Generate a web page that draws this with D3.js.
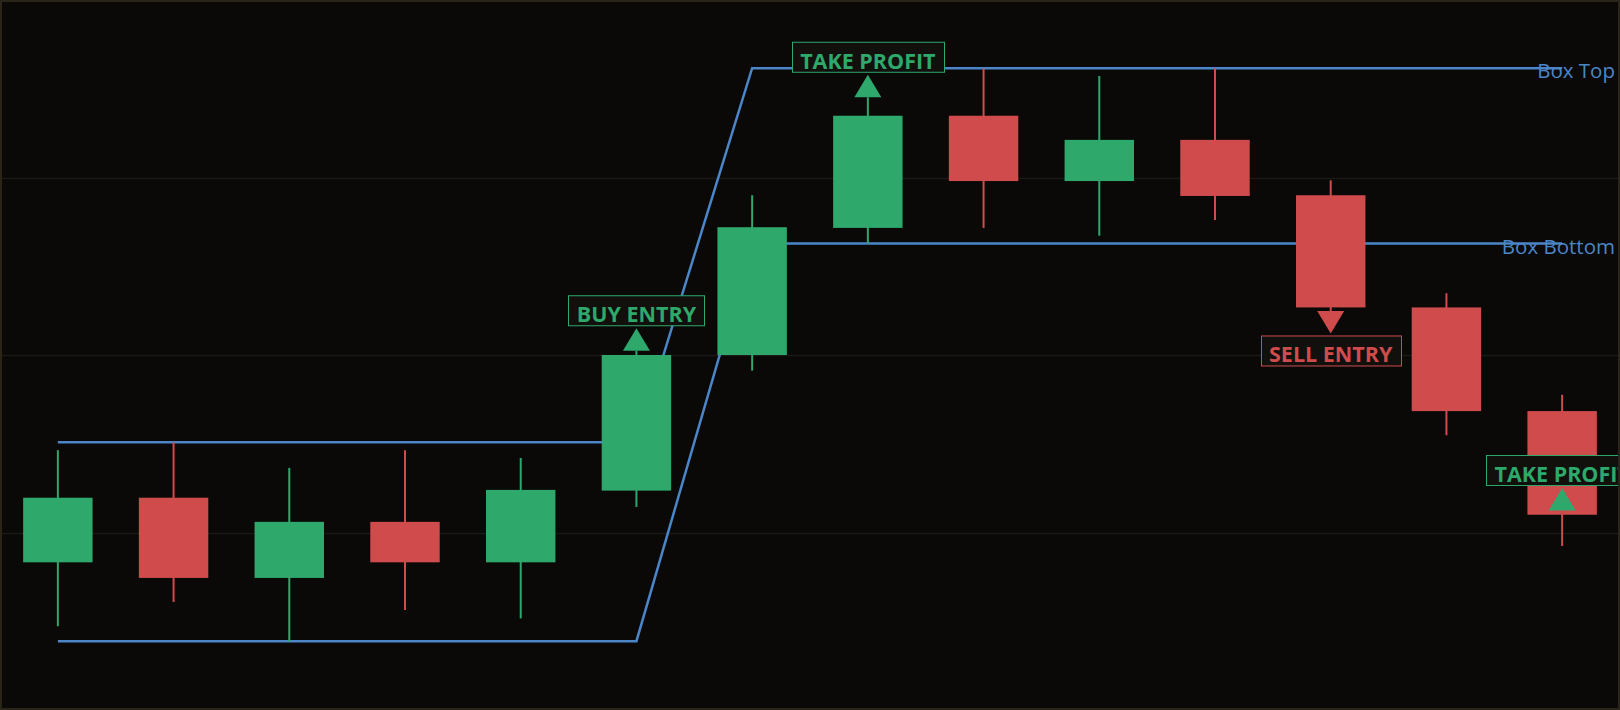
<!DOCTYPE html>
<html>
<head>
<meta charset="utf-8">
<title>Box breakout</title>
<style>
  html, body { margin: 0; padding: 0; background: #0a0908; }
  svg { display: block; }
</style>
</head>
<body>
<svg id="chart" width="1620" height="710"></svg>
<script src="https://d3js.org/d3.v7.min.js"></script>
<script>
// candles (price units 0..100)
var opens  = [20.8, 29.9, 18.6, 26.5, 20.8, 30.9, 50.0, 67.9, 83.7, 74.5, 80.3, 72.5, 56.7, 42.1];
var highs  = [36.6, 37.7, 34.1, 36.6, 35.5, 50.6, 72.5, 86.3, 90.4, 89.3, 90.4, 74.6, 58.7, 44.4];
var lows   = [11.8, 15.2,  9.6, 14.1, 12.9, 28.6, 47.8, 65.7, 67.9, 66.8, 69.0, 56.2, 38.7, 23.1];
var closes = [29.9, 18.6, 26.5, 20.8, 31.0, 50.0, 68.0, 83.7, 74.5, 80.3, 72.4, 56.7, 42.1, 27.5];

// box outline (candle index -> price)
var boxIdx    = [0, 5, 6, 13];
var boxTop    = [37.7, 37.7, 90.4, 90.4];
var boxBottom = [9.7, 9.7, 65.7, 65.7];
var boxLabels = ["Box Top", "Box Bottom"];

// trade markers
var markerIdx   = [5, 7, 11, 13];
var markerPrice = [50.6, 86.3, 56.2, 28.1];
var markerText  = ["BUY ENTRY", "TAKE PROFIT", "SELL ENTRY", "TAKE PROFIT"];
var markerDir   = ["up", "up", "down", "up"];

var gridLevels = [25, 50, 75];

var width = 1620, height = 710;
var green = "#2ea86b", red = "#d04b4c", blue = "#4a86c8";

var svg = d3.select("#chart");

var x = d3.scaleBand()
    .domain(d3.range(opens.length))
    .range([0, width])
    .paddingInner(0.4)
    .paddingOuter(0.2);
var y = d3.scaleLinear().domain([0, 100]).range([height, 0]);
var cx = function(i) { return x(i) + x.bandwidth() / 2; };

svg.append("rect")
    .attr("width", width).attr("height", height)
    .attr("fill", "#0a0908");

// grid
svg.selectAll(".grid")
    .data(gridLevels)
    .enter().append("line")
    .attr("x1", 0).attr("x2", width)
    .attr("y1", d => Math.round(y(d)) + 0.5)
    .attr("y2", d => Math.round(y(d)) + 0.5)
    .attr("stroke", "#1b1916")
    .attr("stroke-width", 1.5);

// box lines
var boxLine = d3.line()
    .x(d => cx(d[0]))
    .y(d => y(d[1]));
[boxTop, boxBottom].forEach(function(vals) {
    svg.append("path")
        .attr("d", boxLine(boxIdx.map((b, k) => [b, vals[k]])))
        .attr("fill", "none")
        .attr("stroke", blue)
        .attr("stroke-width", 2.5);
});

// candles
var candles = d3.range(opens.length).map(i => ({
    i: i, o: opens[i], h: highs[i], l: lows[i], c: closes[i]
}));
var g = svg.selectAll(".candle")
    .data(candles)
    .enter().append("g");
g.append("line")
    .attr("x1", d => cx(d.i)).attr("x2", d => cx(d.i))
    .attr("y1", d => y(d.h)).attr("y2", d => y(d.l))
    .attr("stroke", d => d.c >= d.o ? green : red)
    .attr("stroke-width", 2);
g.append("rect")
    .attr("x", d => x(d.i))
    .attr("width", x.bandwidth())
    .attr("y", d => y(Math.max(d.o, d.c)))
    .attr("height", d => Math.abs(y(d.o) - y(d.c)))
    .attr("fill", d => d.c >= d.o ? green : red);

// box labels
svg.selectAll(".boxlabel")
    .data([boxTop[3], boxBottom[3]])
    .enter().append("text")
    .attr("x", width - 5)
    .attr("y", d => y(d) + 10)
    .attr("text-anchor", "end")
    .attr("font-family", "'Open Sans', sans-serif")
    .attr("font-size", 20.5)
    .attr("fill", blue)
    .text((d, k) => boxLabels[k]);

// markers
var triH = 22.5, triW = 13.5, gap = 3, boxH = 30, pad = 8.5;
markerIdx.forEach(function(idx, k) {
    var up = markerDir[k] === "up";
    var col = markerText[k] === "SELL ENTRY" ? red : green;
    var xc = cx(idx), base = y(markerPrice[k]);
    var tip = up ? base - triH : base + triH;
    svg.append("path")
        .attr("d", d3.line()([[xc - triW, base], [xc + triW, base], [xc, tip]]) + "Z")
        .attr("fill", up ? green : red);

    var top = up ? tip - gap - boxH : tip + gap - 1;
    var lg = svg.append("g");
    var r = lg.append("rect")
        .attr("y", top + 0.5)
        .attr("height", boxH)
        .attr("fill", "#12100d")
        .attr("stroke", col)
        .attr("stroke-width", 1);
    var t = lg.append("text")
        .attr("x", xc)
        .attr("y", top + boxH - 3)
        .attr("text-anchor", "middle")
        .attr("font-family", "'Open Sans', sans-serif")
        .attr("font-weight", 700)
        .attr("font-size", 21.5)
        .attr("fill", col)
        .text(markerText[k]);
    var w = t.node().getComputedTextLength() + 2 * pad;
    r.attr("x", Math.round(xc - w / 2) + 0.5).attr("width", Math.round(w));
});

// frame
svg.append("rect")
    .attr("x", 1).attr("y", 1)
    .attr("width", width - 2).attr("height", height - 2)
    .attr("fill", "none")
    .attr("stroke", "#2a2519")
    .attr("stroke-width", 2);
</script>
</body>
</html>
